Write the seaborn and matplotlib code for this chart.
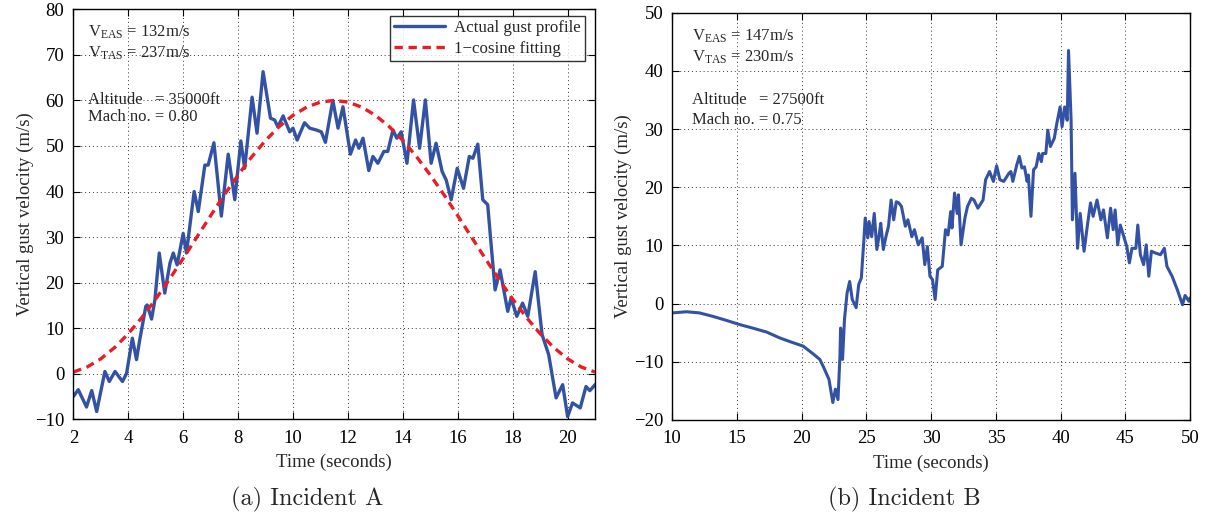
import matplotlib
matplotlib.use("Agg")
import matplotlib.pyplot as plt
import seaborn as sns
import pandas as pd

# Incident A: measured gust profile
time_a = [2.0, 2.18, 2.48, 2.67, 2.85, 3.15, 3.31, 3.52, 3.79, 3.94, 4.15, 4.30, 4.42, 4.64, 4.69,
          4.85, 4.97, 5.13, 5.33, 5.52, 5.64, 5.78, 6.0, 6.12, 6.40, 6.55, 6.79, 6.91, 7.12, 7.39,
          7.64, 7.88, 8.10, 8.24, 8.51, 8.69, 8.91, 9.18, 9.33, 9.45, 9.64, 9.88, 10.0, 10.15, 10.42,
          10.61, 10.85, 11.03, 11.18, 11.45, 11.64, 11.82, 12.09, 12.28, 12.40, 12.55, 12.76, 12.91,
          13.09, 13.31, 13.45, 13.64, 13.78, 13.94, 14.15, 14.39, 14.61, 14.82, 15.03, 15.21, 15.43,
          15.58, 15.76, 15.98, 16.21, 16.42, 16.55, 16.73, 16.91, 17.09, 17.21, 17.36, 17.54, 17.82,
          17.94, 18.15, 18.36, 18.55, 18.82, 19.07, 19.31, 19.58, 19.82, 20.0, 20.18, 20.46, 20.67,
          20.81, 21.0]
gust_a = [-5.0, -3.5, -7.3, -3.7, -8.3, 0.5, -1.7, 0.5, -1.7, 0.1, 7.8, 3.1, 7.5, 14.8, 15.1,
          12.0, 16.2, 26.5, 17.7, 24.3, 26.5, 23.9, 30.8, 26.5, 40.0, 35.6, 45.8, 45.8, 50.7, 34.6,
          48.2, 38.2, 51.1, 45.1, 60.7, 52.8, 66.3, 56.1, 55.7, 54.2, 56.6, 53.1, 53.9, 51.3, 55.1,
          53.9, 53.5, 53.1, 50.8, 60.0, 53.9, 58.6, 48.2, 51.3, 49.5, 51.7, 44.6, 47.7,
          46.2, 48.8, 48.8, 53.5, 51.7, 53.1, 46.2, 60.1, 49.5, 60.1, 46.2, 50.6, 44.4,
          42.5, 38.2, 45.1, 40.7, 47.7, 47.3, 50.4, 38.2, 37.1, 28.7, 18.4, 22.8, 13.7,
          16.6, 12.6, 15.5, 12.6, 22.4, 8.6, 4.2, -5.3, -2.4, -9.4, -6.4, -7.5, -2.8,
          -3.7, -2.4]

# Incident A: 1-cosine fit sampled every 0.5 s
fit_time_a = [2.0 + 0.5 * i for i in range(39)]
fit_a = [0.37, 1.47, 3.27, 5.73, 8.79, 12.37, 16.38, 20.73, 25.31, 30.0, 34.69, 39.27, 43.62,
         47.63, 51.21, 54.27, 56.73, 58.53, 59.63, 60.0, 59.63, 58.53, 56.73, 54.27, 51.21,
         47.63, 43.62, 39.27, 34.69, 30.0, 25.31, 20.73, 16.38, 12.37, 8.79, 5.73, 3.27, 1.47, 0.37]

# Incident B: measured gust profile
time_b = [10.0, 11.1, 12.1, 13.15, 14.2, 15.2, 16.2, 17.3, 18.3, 19.3, 20.1, 20.8, 21.4, 21.7,
          22.1, 22.4, 22.6, 22.8, 22.95, 23.0, 23.15, 23.3, 23.5, 23.7, 23.9, 24.2, 24.4, 24.6,
          24.8, 24.9, 25.1, 25.2, 25.4, 25.6, 25.8, 26.0, 26.1, 26.3, 26.5, 26.7, 26.9, 27.1,
          27.3, 27.5, 27.7, 28.0, 28.2, 28.5, 28.7, 29.0, 29.3, 29.5, 29.7, 29.9, 30.1, 30.3,
          30.5, 30.85, 31.1, 31.3, 31.5, 31.6, 31.8, 32.0, 32.1, 32.3, 32.6, 32.8, 33.1, 33.3,
          33.6, 34.0, 34.2, 34.5, 34.8, 35.05, 35.3, 35.6, 36.0, 36.15, 36.3, 36.6, 36.8, 37.0,
          37.2, 37.4, 37.5, 37.7, 37.9, 38.1, 38.3, 38.5, 38.6, 38.85, 39.0, 39.2, 39.5, 39.7,
          39.95, 40.1, 40.3, 40.5, 40.6, 40.8, 40.9, 41.1, 41.3, 41.5, 41.8, 42.05, 42.3, 42.5,
          42.8, 43.1, 43.3, 43.6, 43.85, 44.05, 44.2, 44.4, 44.6, 44.9, 45.1, 45.3, 45.5, 45.8,
          45.95, 46.15, 46.4, 46.6, 46.8, 47.0, 47.3, 47.7, 48.0, 48.2, 48.6, 49.0, 49.4, 49.6,
          49.9, 50.0]
gust_b = [-1.6, -1.4, -1.6, -2.2, -2.9, -3.6, -4.2, -4.9, -5.9, -6.7, -7.3, -8.5, -9.6, -11.0,
          -13.0, -17.0, -14.7, -16.5, -9.0, -4.2, -9.6, -2.7, 1.8, 3.8, 0.7, -0.7, 3.3, 4.4,
          11.0, 14.7, 11.3, 14.1, 11.5, 15.5, 9.3, 12.1, 13.8, 9.3, 11.5, 13.3, 17.8, 14.4,
          17.5, 17.3, 16.7, 13.3, 14.4, 11.5, 12.7, 10.1, 11.3, 6.7, 9.8, 4.7, 4.1, 0.7,
          5.8, 6.4, 12.7, 11.8, 15.8, 13.0, 19.0, 15.5, 18.7, 10.1, 14.7, 16.7, 18.1, 17.8,
          16.4, 17.8, 21.3, 22.7, 21.0, 23.7, 21.3, 21.0, 22.4, 22.7, 21.0, 23.8, 25.3, 23.3,
          23.5, 21.0, 22.1, 15.0, 23.0, 23.5, 25.8, 24.4, 25.8, 25.8, 29.8, 27.0, 28.4, 31.0,
          33.8, 30.4, 33.8, 31.5, 43.5, 31.5, 14.4, 22.4, 9.5, 15.5, 9.0, 13.3, 17.3, 15.0,
          17.8, 14.4, 16.1, 11.3, 16.4, 12.7, 16.1, 10.1, 13.5, 11.3, 9.8, 7.0, 9.5, 9.5,
          13.5, 8.4, 6.7, 10.1, 4.7, 9.0, 8.7, 8.4, 9.5, 6.4, 4.7, 2.4, -0.2, 1.4,
          0.4, 1.0]

sns.set_theme(style="ticks")
plt.rcParams["font.family"] = ["Liberation Serif", "DejaVu Serif"]
plt.rcParams["mathtext.fontset"] = "custom"
plt.rcParams["mathtext.rm"] = "Liberation Serif"
plt.rcParams["mathtext.it"] = "Liberation Serif:italic"

BLUE = "#3352a3"
RED = "#ec1c24"
TICK_FS = 13.5
LABEL_FS = 13.5
DASH = (0, (2.5, 1.7))

fig = plt.figure(figsize=(12.08, 5.19), dpi=100)
ax_a = fig.add_axes([0.0607, 0.1921, 0.4319, 0.7900])
ax_b = fig.add_axes([0.5565, 0.1908, 0.4288, 0.7848])

df_a = pd.DataFrame({"t": time_a, "v": gust_a})
df_fit = pd.DataFrame({"t": fit_time_a, "v": fit_a})
df_b = pd.DataFrame({"t": time_b, "v": gust_b})

sns.lineplot(data=df_a, x="t", y="v", ax=ax_a, color=BLUE, linewidth=2.4, sort=False,
             estimator=None, label="Actual gust profile", solid_joinstyle="round")
sns.lineplot(data=df_fit, x="t", y="v", ax=ax_a, color=RED, linewidth=2.4, sort=False,
             estimator=None, label="1\u2212cosine fitting", linestyle=DASH)
sns.lineplot(data=df_b, x="t", y="v", ax=ax_b, color=BLUE, linewidth=2.2, sort=False,
             estimator=None, legend=False, solid_joinstyle="round")

ax_a.set_xlim(2, 21)
ax_a.set_ylim(-10, 80)
ax_a.set_xticks(range(2, 21, 2))
ax_a.set_yticks(range(-10, 81, 10))
ax_b.set_xlim(10, 50)
ax_b.set_ylim(-20, 50)
ax_b.set_xticks(range(10, 51, 5))
ax_b.set_yticks(range(-20, 51, 10))

for ax in (ax_a, ax_b):
    ax.grid(True, linestyle=(0, (1, 3)), color="black", linewidth=0.7, alpha=0.8)
    ax.tick_params(direction="in", top=True, right=True, length=5, width=0.8,
                   labelsize=TICK_FS, colors="black")
    ax.tick_params(axis="x", pad=7.5)
    ax.tick_params(axis="y", pad=6.5)
    for sp in ax.spines.values():
        sp.set_visible(True)
        sp.set_linewidth(1.0)
        sp.set_color("black")
    ax.set_xlabel("Time (seconds)", fontsize=LABEL_FS, labelpad=5)
    ax.set_ylabel("Vertical gust velocity (m/s)", fontsize=LABEL_FS, labelpad=1)

leg = ax_a.legend(loc="upper right", bbox_to_anchor=(0.98, 0.984), borderaxespad=0,
                  fontsize=12.2, frameon=True, fancybox=False, edgecolor="black",
                  handlelength=3.0, borderpad=0.25, labelspacing=0.3, handletextpad=0.5)
leg.get_frame().set_linewidth(1.0)

TFS = 12
ax_a.text(0.028, 0.945, r"V$_{\rm EAS}$ = 132m/s", transform=ax_a.transAxes, fontsize=TFS, va="center")
ax_a.text(0.028, 0.893, r"V$_{\rm TAS}$ = 237m/s", transform=ax_a.transAxes, fontsize=TFS, va="center")
ax_a.text(0.028, 0.779, "Altitude   = 35000ft", transform=ax_a.transAxes, fontsize=TFS, va="center")
ax_a.text(0.028, 0.737, "Mach no. = 0.80", transform=ax_a.transAxes, fontsize=TFS, va="center")

ax_b.text(0.038, 0.943, r"V$_{\rm EAS}$ = 147m/s", transform=ax_b.transAxes, fontsize=TFS, va="center")
ax_b.text(0.038, 0.891, r"V$_{\rm TAS}$ = 230m/s", transform=ax_b.transAxes, fontsize=TFS, va="center")
ax_b.text(0.038, 0.785, "Altitude   = 27500ft", transform=ax_b.transAxes, fontsize=TFS, va="center")
ax_b.text(0.038, 0.736, "Mach no. = 0.75", transform=ax_b.transAxes, fontsize=TFS, va="center")

fig.text(307 / 1208, 1 - 499 / 519, "(a) Incident A", fontsize=17.5, ha="center", va="center",
         family=["cmr10", "DejaVu Serif"])
fig.text(904 / 1208, 1 - 499 / 519, "(b) Incident B", fontsize=17.5, ha="center", va="center",
         family=["cmr10", "DejaVu Serif"])

fig.savefig("out.png", dpi=100, facecolor="white")
